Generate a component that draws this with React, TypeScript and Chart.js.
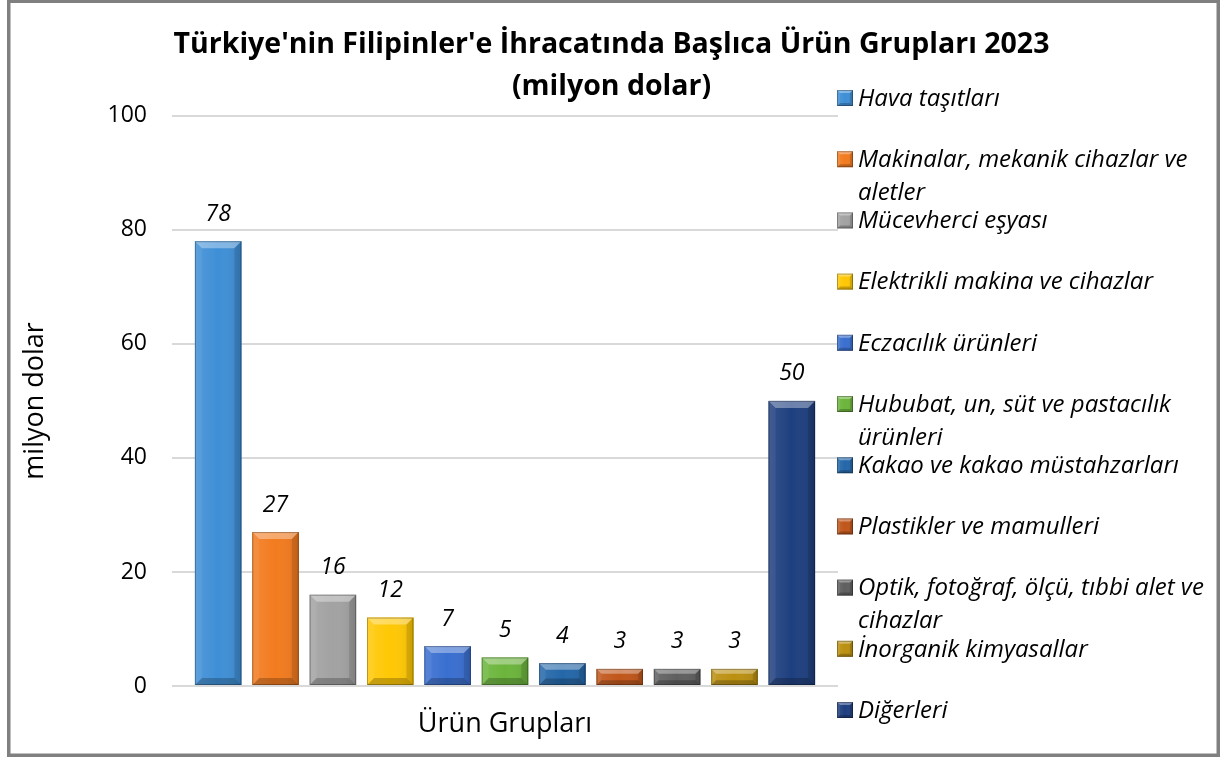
import React, { useEffect, useRef } from 'react';
import { Chart, registerables } from 'chart.js';

Chart.register(...registerables);

const categories = ['Ürün Grupları'];
const seriesNames = [
  'Hava taşıtları',
  'Makinalar, mekanik cihazlar ve aletler',
  'Mücevherci eşyası',
  'Elektrikli makina ve cihazlar',
  'Eczacılık ürünleri',
  'Hububat, un, süt ve pastacılık ürünleri',
  'Kakao ve kakao müstahzarları',
  'Plastikler ve mamulleri',
  'Optik, fotoğraf, ölçü, tıbbi alet ve cihazlar',
  'İnorganik kimyasallar',
  'Diğerleri',
];
const seriesValues = [78, 27, 16, 12, 7, 5, 4, 3, 3, 3, 50];
const seriesColors = [
  '#3f8fd6',
  '#f27b1f',
  '#a2a2a2',
  '#ffc805',
  '#3a6fd0',
  '#6cb53c',
  '#2467a9',
  '#c0561a',
  '#5f5f5f',
  '#bb9010',
  '#1e3f7f',
];
const yMin = 0;
const yMax = 100;
const yStep = 20;
const titleLines = ["Türkiye'nin Filipinler'e İhracatında Başlıca Ürün Grupları 2023", '(milyon dolar)'];
const yAxisTitle = 'milyon dolar';

const FONT = '"Open Sans"';

function bevelRect(ctx: CanvasRenderingContext2D, l: number, t: number, r: number, b: number, color: string, bev: number) {
  ctx.save();
  ctx.fillStyle = color;
  ctx.fillRect(l, t, r - l, b - t);
  const g = ctx.createLinearGradient(l, 0, r, 0);
  g.addColorStop(0, 'rgba(255,255,255,0.10)');
  g.addColorStop(0.5, 'rgba(255,255,255,0)');
  g.addColorStop(1, 'rgba(0,0,0,0.10)');
  ctx.fillStyle = g;
  ctx.fillRect(l, t, r - l, b - t);
  const poly = (pts: number[][], fill: string) => {
    ctx.beginPath();
    ctx.moveTo(pts[0][0], pts[0][1]);
    for (let i = 1; i < pts.length; i++) ctx.lineTo(pts[i][0], pts[i][1]);
    ctx.closePath();
    ctx.fillStyle = fill;
    ctx.fill();
  };
  poly([[l, t], [r, t], [r - bev, t + bev], [l + bev, t + bev]], 'rgba(255,255,255,0.35)');
  poly([[l, b], [r, b], [r - bev, b - bev], [l + bev, b - bev]], 'rgba(0,0,0,0.22)');
  poly([[l, t], [l + bev, t + bev], [l + bev, b - bev], [l, b]], 'rgba(255,255,255,0.06)');
  poly([[r, t], [r - bev, t + bev], [r - bev, b - bev], [r, b]], 'rgba(0,0,0,0.12)');
  ctx.strokeStyle = 'rgba(0,0,0,0.28)';
  ctx.lineWidth = 1;
  ctx.strokeRect(l + 0.5, t + 0.5, r - l - 1, b - t - 1);
  ctx.restore();
}

const framePlugin = {
  id: 'frame',
  beforeDraw(chart: any) {
    const ctx = chart.ctx as CanvasRenderingContext2D;
    ctx.save();
    ctx.fillStyle = '#ffffff';
    ctx.fillRect(0, 0, chart.width, chart.height);
    ctx.restore();
  },
  afterDraw(chart: any) {
    const ctx = chart.ctx as CanvasRenderingContext2D;
    ctx.save();
    ctx.strokeStyle = '#808080';
    ctx.lineWidth = 3.5;
    ctx.strokeRect(8.75, 1.25, chart.width - 8.75 - 4.75, chart.height - 1.25 - 2.75);
    ctx.restore();
  },
};

const bevelBarsPlugin = {
  id: 'bevelBars',
  afterDatasetsDraw(chart: any) {
    const ctx = chart.ctx as CanvasRenderingContext2D;
    chart.data.datasets.forEach((ds: any, i: number) => {
      const meta = chart.getDatasetMeta(i);
      meta.data.forEach((el: any) => {
        const { x, y, base, width } = el.getProps(['x', 'y', 'base', 'width'], true);
        const l = x - width / 2;
        const r = x + width / 2;
        const t = Math.min(y, base);
        const b = Math.max(y, base);
        const bev = Math.min(7, (b - t) * 0.3);
        bevelRect(ctx, l, t, r, b, ds.backgroundColor, bev);
        ctx.save();
        ctx.fillStyle = '#000';
        ctx.font = `italic 23px ${FONT}`;
        ctx.textAlign = 'center';
        ctx.textBaseline = 'middle';
        ctx.fillText(String(ds.data[0]), x, t - 27);
        ctx.restore();
      });
    });
  },
};

const sideLegendPlugin = {
  id: 'sideLegend',
  afterDraw(chart: any) {
    const ctx = chart.ctx as CanvasRenderingContext2D;
    const x0 = chart.chartArea.right - 1;
    const textX = x0 + 21;
    const maxW = 362;
    const top = 98;
    const step = 61.2;
    const lineH = 33;
    ctx.save();
    ctx.font = `italic 24px ${FONT}`;
    ctx.textBaseline = 'middle';
    ctx.textAlign = 'left';
    chart.data.datasets.forEach((ds: any, i: number) => {
      const cy = top + i * step;
      bevelRect(ctx, x0, cy - 8, x0 + 16, cy + 8, ds.backgroundColor, 3);
      const words = String(ds.label).split(' ');
      const lines: string[] = [];
      let cur = '';
      words.forEach((w) => {
        const test = cur ? cur + ' ' + w : w;
        if (ctx.measureText(test).width > maxW && cur) {
          lines.push(cur);
          cur = w;
        } else cur = test;
      });
      if (cur) lines.push(cur);
      ctx.fillStyle = '#000';
      lines.forEach((ln, k) => ctx.fillText(ln, textX, cy + 1 + k * lineH));
    });
    ctx.restore();
  },
};

export default function App() {
  const ref = useRef<HTMLCanvasElement | null>(null);
  useEffect(() => {
    if (!ref.current) return;
    const chart = new Chart(ref.current, {
      type: 'bar',
      data: {
        labels: categories,
        datasets: seriesNames.map((name, i) => ({
          label: name,
          data: [seriesValues[i]],
          backgroundColor: seriesColors[i],
          borderWidth: 0,
          categoryPercentage: 0.9475,
          barPercentage: 0.81,
        })),
      },
      options: {
        animation: false,
        responsive: true,
        maintainAspectRatio: false,
        events: [],
        layout: { padding: { left: 0, right: 0, top: 0, bottom: 0 } },
        datasets: { bar: { backgroundColor: 'rgba(0,0,0,0)' } as any },
        scales: {
          x: {
            grid: { display: false },
            border: { display: false },
            ticks: { color: '#000', font: { family: FONT, size: 27 }, padding: 14 },
            afterFit: (s: any) => {
              s.height = 72;
            },
          },
          y: {
            min: yMin,
            max: yMax,
            ticks: { stepSize: yStep, color: '#000', font: { family: FONT, size: 23 }, padding: 25 },
            grid: { color: '#d9d9d9', lineWidth: 2, drawTicks: false },
            border: { display: false },
            title: {
              display: true,
              text: yAxisTitle,
              color: '#000',
              font: { family: FONT, size: 27 },
              padding: { top: 19, bottom: 0 },
            },
            afterFit: (s: any) => {
              s.width = 172;
            },
          },
          y2: {
            position: 'right',
            min: yMin,
            max: yMax,
            grid: { display: false },
            border: { display: false },
            ticks: { display: false },
            afterFit: (s: any) => {
              s.width = 385;
            },
          },
        },
        plugins: {
          legend: { display: false },
          tooltip: { enabled: false },
          title: {
            display: true,
            text: titleLines,
            color: '#000',
            font: { family: FONT, size: 28.5, weight: 'bold', lineHeight: 1.47 },
            padding: { top: 24, bottom: 8 },
          },
        },
      } as any,
      plugins: [framePlugin, bevelBarsPlugin, sideLegendPlugin],
    });
    return () => chart.destroy();
  }, []);
  return (
    <div style={{ position: 'fixed', left: 0, top: 0, width: 1223, height: 758 }}>
      <canvas ref={ref} />
    </div>
  );
}
